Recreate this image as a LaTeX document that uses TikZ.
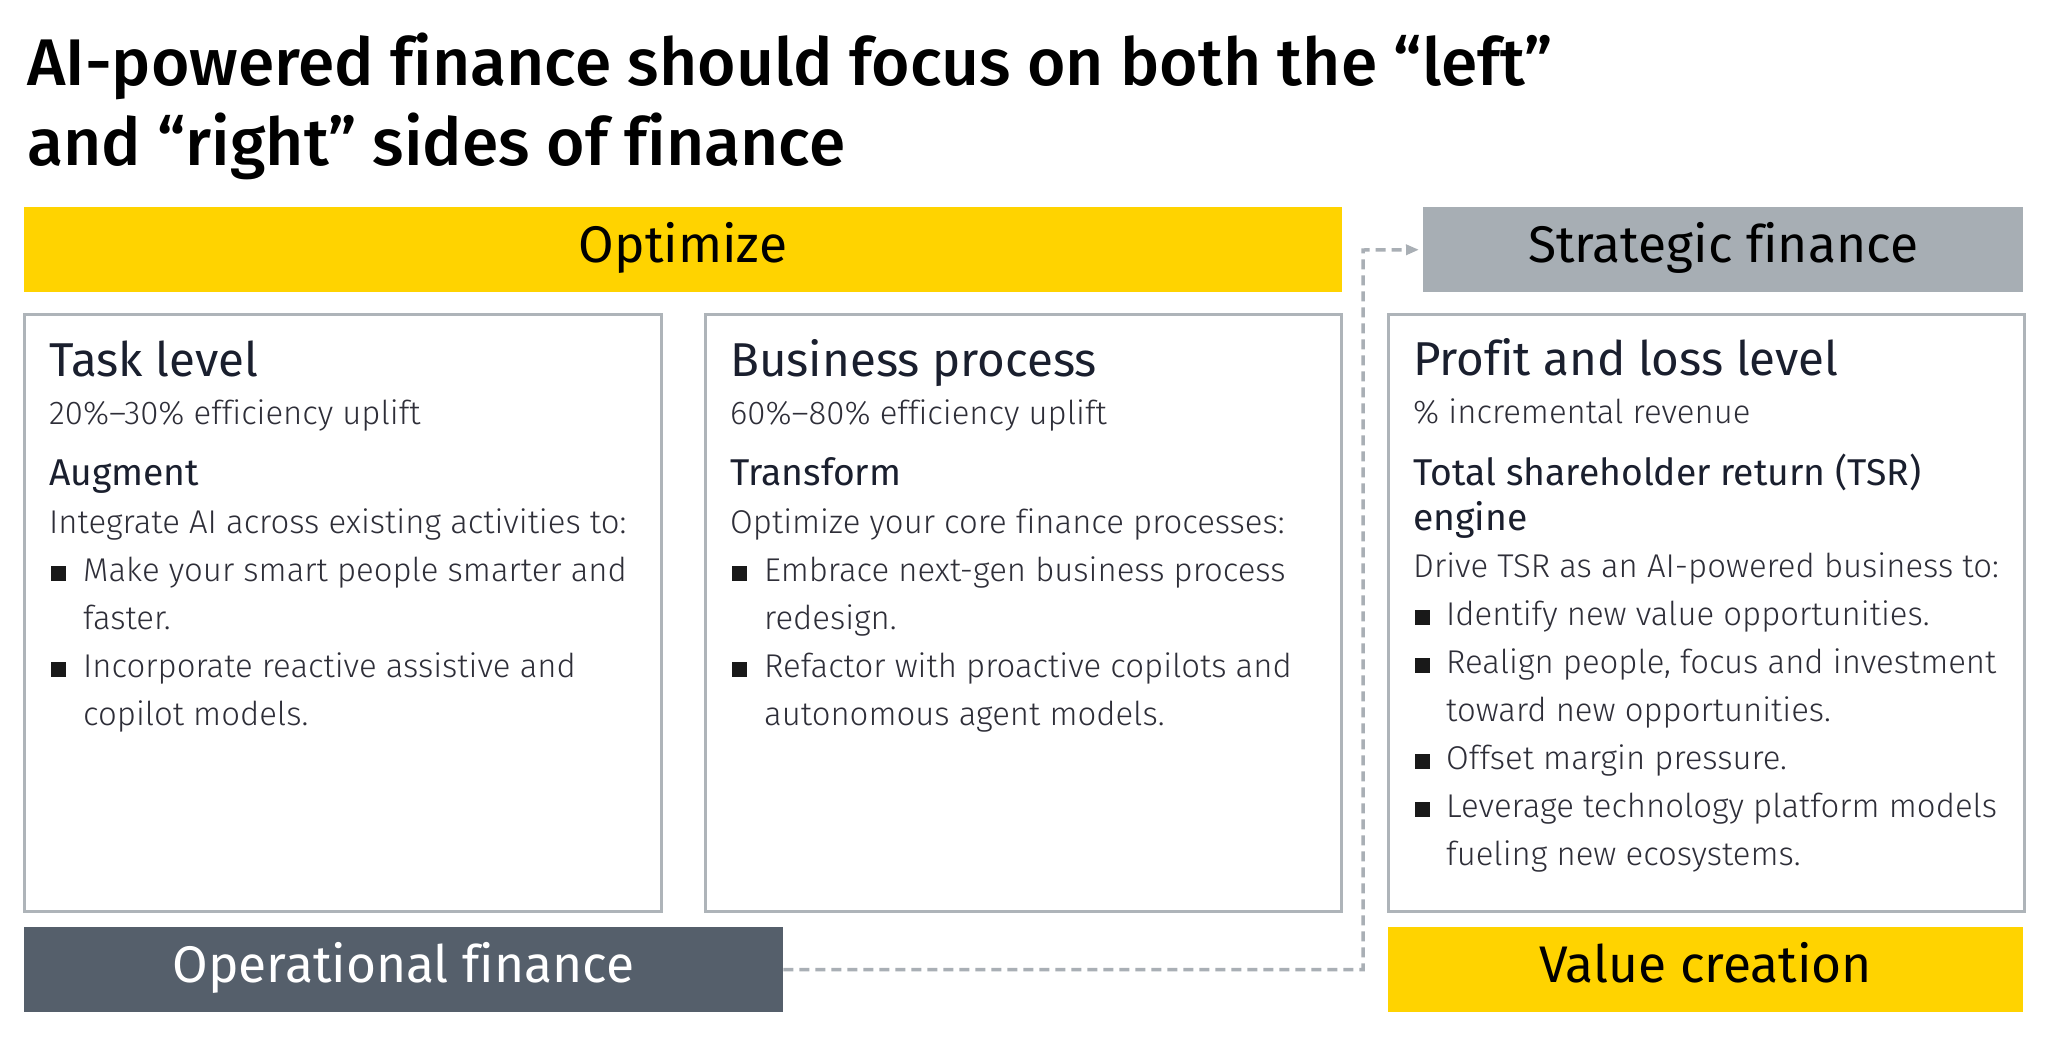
\documentclass[tikz,border=0pt]{standalone}
\usepackage{fontspec}
\setmainfont{Fira Sans}[Ligatures=NoCommon]
\newfontfamily\lightf{Fira Sans Light}[Ligatures=NoCommon]
\newfontfamily\medf{Fira Sans Medium}[Ligatures=NoCommon]
\usetikzlibrary{arrows.meta}
\definecolor{eyyellow}{HTML}{FFD300}
\definecolor{stratgray}{HTML}{A7AEB4}
\definecolor{opdark}{HTML}{555F6B}
\definecolor{boxline}{HTML}{AEB4B9}
\definecolor{headc}{HTML}{1A1F2E}
\definecolor{bodyc}{HTML}{2E2E38}
\definecolor{connc}{HTML}{A9AFB5}
\newcommand\titlef{\medf\fontsize{66.0}{79}\selectfont}
\newcommand\bandf{\fontsize{51.5}{60}\selectfont}
\newcommand\cardttlf{\fontsize{47.5}{56}\selectfont}
\newcommand\cardhdf{\fontsize{37.3}{44}\selectfont}
\newcommand\bodyf{\lightf\fontsize{32.9}{40}\selectfont}
\tikzset{
  bar/.style={rectangle, minimum height=85pt, inner sep=0pt, anchor=north west, draw=none},
  card/.style={rectangle, draw=boxline, line width=3pt, fill=white, inner sep=0pt, anchor=north west, minimum height=597pt, minimum width=637pt},
  ttl/.style={anchor=base west, inner sep=0pt, font=\titlef, text=black},
  bandlbl/.style={anchor=base, inner sep=0pt, font=\bandf},
  cardttl/.style={anchor=base west, inner sep=0pt, font=\cardttlf, text=headc},
  cardhd/.style={anchor=base west, inner sep=0pt, font=\cardhdf, text=headc},
  body/.style={anchor=base west, inner sep=0pt, font=\bodyf, text=bodyc},
  sq/.style={rectangle, fill=black!90, minimum size=15pt, inner sep=0pt, anchor=south west},
  conn/.style={draw=connc, line width=3.5pt, dash pattern=on 10pt off 6pt}
}
\begin{document}
\begin{tikzpicture}[x=1pt,y=-1pt]
\useasboundingbox[fill=white] (0,0) rectangle (2048,1053);
% title
\node[ttl] (t1) at (27,85) {AI-powered finance should focus on both the “left”};
\node[ttl] (t2) at (27,165) {and “right” sides of finance};
% bands
\node[bar, fill=eyyellow, minimum width=1318pt] (opt) at (24,207) {};
\node[bandlbl, text=black] (optl) at (683,262) {Optimize};
\node[bar, fill=stratgray, minimum width=600pt] (strat) at (1423,207) {};
\node[bandlbl, text=black] (stratl) at (1723,262) {Strategic finance};
\node[bar, fill=opdark, minimum width=759pt] (opfin) at (24,927) {};
\node[bandlbl, text=white] (opfinl) at (403.5,982) {Operational finance};
\node[bar, fill=eyyellow, minimum width=635pt] (value) at (1388,927) {};
\node[bandlbl, text=black] (valuel) at (1705.5,982) {Value creation};
% cards
\node[card] (task) at (23,313) {};
\node[card, minimum width=636pt] (bp) at (704,313) {};
\node[card, minimum width=636pt] (pl) at (1387,313) {};
% task level
\node[cardttl] (ta1) at (49,376) {Task level};
\node[body] (ta2) at (49,424) {20\%–30\% efficiency uplift};
\node[cardhd] (ta3) at (49,485) {Augment};
\node[body] (ta4) at (49,533) {Integrate AI across existing activities to:};
\node[sq] (tas1) at (51,581) {};
\node[body] (ta5) at (83,581) {Make your smart people smarter and};
\node[body] (ta6) at (83,629) {faster.};
\node[sq] (tas2) at (51,677) {};
\node[body] (ta7) at (83,677) {Incorporate reactive assistive and};
\node[body] (ta8) at (83,725) {copilot models.};
% business process
\node[cardttl] (bp1) at (730,376) {Business process};
\node[body] (bp2) at (730,424) {60\%–80\% efficiency uplift};
\node[cardhd] (bp3) at (730,485) {Transform};
\node[body] (bp4) at (730,533) {Optimize your core finance processes:};
\node[sq] (bps1) at (732,581) {};
\node[body] (bp5) at (764,581) {Embrace next-gen business process};
\node[body] (bp6) at (764,629) {redesign.};
\node[sq] (bps2) at (732,677) {};
\node[body] (bp7) at (764,677) {Refactor with proactive copilots and};
\node[body] (bp8) at (764,725) {autonomous agent models.};
% profit and loss
\node[cardttl] (pl1) at (1413,375) {Profit and loss level};
\node[body] (pl2) at (1413,423) {\% incremental revenue};
\node[cardhd] (pl3) at (1413,485) {Total shareholder return (TSR)};
\node[cardhd] (pl4) at (1413,530) {engine};
\node[body] (pl5) at (1413,577) {Drive TSR as an AI-powered business to:};
\node[sq] (pls1) at (1415,625) {};
\node[body] (pl6) at (1446,625) {Identify new value opportunities.};
\node[sq] (pls2) at (1415,673) {};
\node[body] (pl7) at (1446,673) {Realign people, focus and investment};
\node[body] (pl8) at (1446,721) {toward new opportunities.};
\node[sq] (pls3) at (1415,769) {};
\node[body] (pl9) at (1446,769) {Offset margin pressure.};
\node[sq] (pls4) at (1415,817) {};
\node[body] (pl10) at (1446,817) {Leverage technology platform models};
\node[body] (pl11) at (1446,865) {fueling new ecosystems.};
% connector
\coordinate (bend) at (1363,250);
\draw[conn, -{Triangle[length=13pt,width=10pt]}, shorten >=4pt] (opfin.east) -| (bend) -- (strat.west);
\end{tikzpicture}
\end{document}
